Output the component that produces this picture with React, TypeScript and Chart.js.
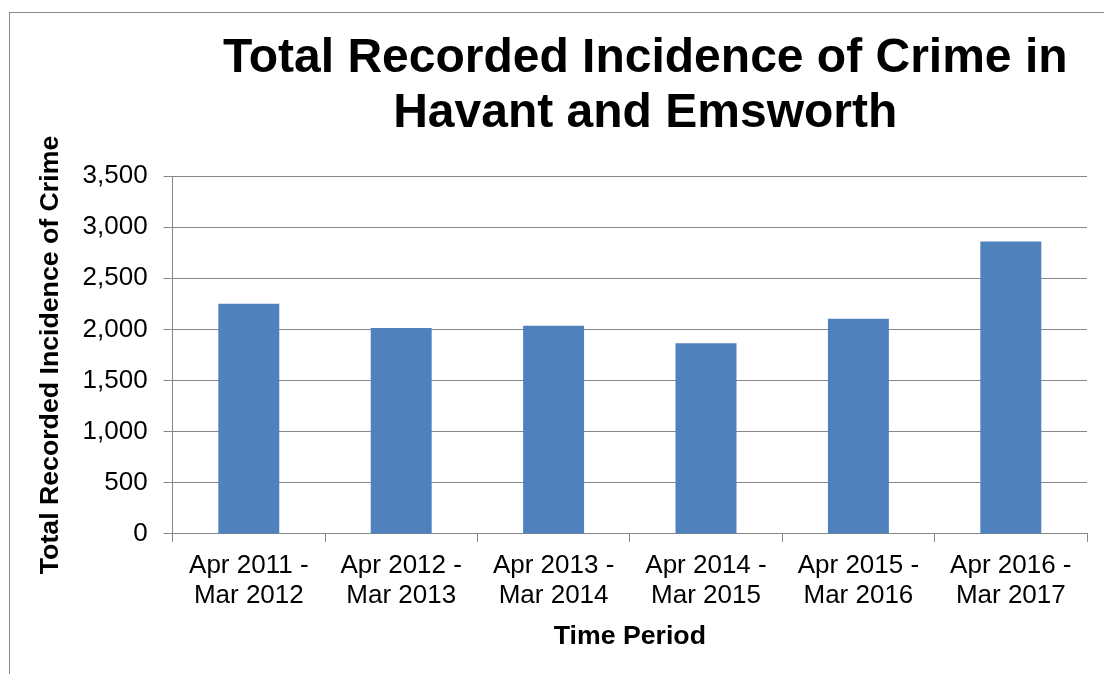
import React, { useEffect, useRef } from "react";
import { Chart, registerables } from "chart.js";

Chart.register(...registerables);

const chartTitle = ["Total Recorded Incidence of Crime in", "Havant and Emsworth"];
const xAxisTitle = "Time Period";
const yAxisTitle = "Total Recorded Incidence of Crime";
const categories = [
  ["Apr 2011 -", "Mar 2012"],
  ["Apr 2012 -", "Mar 2013"],
  ["Apr 2013 -", "Mar 2014"],
  ["Apr 2014 -", "Mar 2015"],
  ["Apr 2015 -", "Mar 2016"],
  ["Apr 2016 -", "Mar 2017"],
];
const crimeCounts = [2250, 2015, 2035, 1865, 2105, 2860];
const yMin = 0;
const yMax = 3500;
const yStep = 500;

const FONT = "'Liberation Sans', Arial, sans-serif";
const GRID = "#868686";

export default function App() {
  const canvasRef = useRef<HTMLCanvasElement | null>(null);

  useEffect(() => {
    if (!canvasRef.current) return;
    const chart = new Chart(canvasRef.current, {
      type: "bar",
      data: {
        labels: categories,
        datasets: [
          {
            data: crimeCounts,
            backgroundColor: "#4F81BD",
            borderWidth: 0,
            barPercentage: 0.4,
            categoryPercentage: 1,
          },
        ],
      },
      options: {
        responsive: false,
        animation: false,
        layout: { padding: { top: 0, left: 19.5, right: 9, bottom: 17.6 } },
        plugins: {
          legend: { display: false },
          tooltip: { enabled: false },
          title: {
            display: true,
            text: chartTitle,
            fullSize: true,
            color: "#000",
            font: { family: FONT, size: 48, weight: "bold", lineHeight: 1.15 },
            padding: { top: 30.8, bottom: 34.8 },
          },
        },
        scales: {
          x: {
            offset: true,
            grid: {
              display: true,
              drawOnChartArea: false,
              drawTicks: true,
              tickLength: 8,
              color: GRID,
              offset: true,
            },
            border: { display: true, color: GRID, width: 1 },
            ticks: {
              color: "#000",
              padding: 9,
              maxRotation: 0,
              autoSkip: false,
              font: { family: FONT, size: 26, lineHeight: 1.15 },
            },
            title: {
              display: true,
              text: xAxisTitle,
              color: "#000",
              font: { family: FONT, size: 26.7, weight: "bold", lineHeight: 1.2 },
              padding: { top: 0.6, bottom: 4 },
            },
          },
          y: {
            min: yMin,
            max: yMax,
            grid: {
              display: true,
              drawOnChartArea: true,
              drawTicks: true,
              tickLength: 9,
              color: GRID,
            },
            border: { display: true, color: GRID, width: 1 },
            ticks: {
              stepSize: yStep,
              color: "#000",
              padding: 16,
              font: { family: FONT, size: 26, lineHeight: 1.15 },
              callback: (v: any) => Number(v).toLocaleString("en-US"),
            },
            title: {
              display: true,
              text: yAxisTitle,
              color: "#000",
              font: { family: FONT, size: 26.7, weight: "bold", lineHeight: 1.2 },
              padding: { top: 15, bottom: 0 },
            },
          },
          spacer: {
            type: "linear",
            position: "right",
            display: true,
            grid: { display: false, drawTicks: false },
            border: { display: false },
            ticks: { display: false },
            title: { display: false },
            afterFit: (scale: any) => {
              scale.width = 184;
            },
          },
        },
      } as any,
    });
    return () => chart.destroy();
  }, []);

  return (
    <div
      style={{
        position: "absolute",
        left: 0,
        top: 0,
        width: 1104,
        height: 674,
        overflow: "hidden",
        background: "#fff",
      }}
    >
      <div
        style={{
          position: "absolute",
          left: 9,
          top: 12,
          width: 1300,
          height: 900,
          border: "1px solid #898989",
        }}
      />
      <canvas
        ref={canvasRef}
        width={1280}
        height={674}
        style={{ position: "absolute", left: 0, top: 0, width: 1280, height: 674 }}
      />
    </div>
  );
}
